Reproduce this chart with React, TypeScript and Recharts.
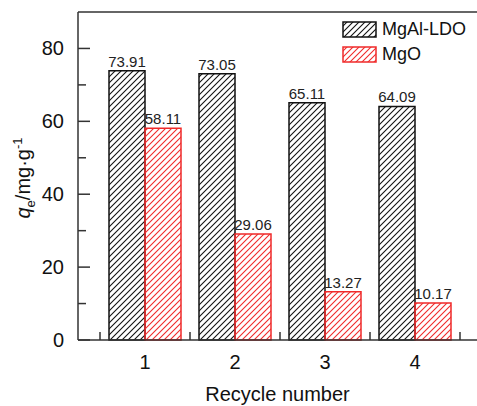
import { BarChart, Bar, XAxis, YAxis, Legend, LabelList, ReferenceLine } from "recharts";

const cycles = ["1", "2", "3", "4"];
const ldoValues = [73.91, 73.05, 65.11, 64.09];
const mgoValues = [58.11, 29.06, 13.27, 10.17];
const yTicks = [0, 10, 20, 30, 40, 50, 60, 70, 80];

const data = cycles.map((c, i) => ({ cycle: c, ldo: ldoValues[i], mgo: mgoValues[i] }));

const FONT = "'Liberation Sans', Arial, sans-serif";
const AXIS = "#333";
const RED = "#f02a2a";
const HALF_BAND = 45;

const Hatch = ({ id, color }: { id: string; color: string }) => (
  <pattern id={id} patternUnits="userSpaceOnUse" width={6} height={6}>
    <path d="M-1,1 l2,-2 M0,6 l6,-6 M5,7 l2,-2" stroke={color} strokeWidth={1.1} />
  </pattern>
);

const XTick = (props: any) => {
  const { x, y, payload, index } = props;
  return (
    <g>
      <line x1={x - HALF_BAND} x2={x - HALF_BAND} y1={y} y2={y - 8} stroke={AXIS} strokeWidth={1.5} />
      {index === cycles.length - 1 && (
        <line x1={x + HALF_BAND} x2={x + HALF_BAND} y1={y} y2={y - 8} stroke={AXIS} strokeWidth={1.5} />
      )}
      <text x={x} y={y + 29} textAnchor="middle" fontSize={20} fontFamily={FONT} fill="#111">
        {payload.value}
      </text>
    </g>
  );
};

const YTick = (props: any) => {
  const { x, y, payload } = props;
  const major = payload.value % 20 === 0;
  return (
    <g>
      <line x1={x} x2={x + (major ? 12 : 8)} y1={y} y2={y} stroke={AXIS} strokeWidth={1.5} />
      {major && (
        <text x={x - 14} y={y + 7} textAnchor="end" fontSize={20} fontFamily={FONT} fill="#111">
          {payload.value}
        </text>
      )}
    </g>
  );
};

const YLabel = (props: any) => {
  const vb = props.viewBox || { x: 0, y: 12, height: 328 };
  const cx = 30;
  const cy = vb.y + vb.height / 2 + 2;
  return (
    <text
      x={cx}
      y={cy}
      transform={`rotate(-90, ${cx}, ${cy})`}
      textAnchor="middle"
      fontSize={20}
      fontFamily={FONT}
      fill="#111"
    >
      <tspan fontStyle="italic">q</tspan>
      <tspan fontSize={13} dy={5}>e</tspan>
      <tspan dy={-5}>/mg·g</tspan>
      <tspan fontSize={13} dy={-8}>-1</tspan>
    </text>
  );
};

const LegendContent = () => {
  const items = [
    { label: "MgAl-LDO", color: "#111", id: "lgBlack" },
    { label: "MgO", color: RED, id: "lgRed" },
  ];
  return (
    <div style={{ fontFamily: FONT, fontSize: 18, color: "#111" }}>
      {items.map((it) => (
        <div key={it.id} style={{ display: "flex", alignItems: "center", height: 25 }}>
          <svg width={36} height={18} style={{ marginRight: 4 }}>
            <defs>
              <Hatch id={it.id} color={it.color} />
            </defs>
            <rect x={1} y={1} width={33} height={15} fill={`url(#${it.id})`} stroke={it.color} strokeWidth={1.5} />
          </svg>
          <span>{it.label}</span>
        </div>
      ))}
    </div>
  );
};

export default function App() {
  return (
    <div style={{ position: "absolute", left: 0, top: 0, background: "#fff" }}>
      <BarChart
        width={477}
        height={406}
        data={data}
        margin={{ top: 12, right: 0, bottom: 0, left: 0 }}
        barCategoryGap={9}
        barGap={0}
      >
        <defs>
          <Hatch id="hatchBlack" color="#111" />
          <Hatch id="hatchRed" color={RED} />
        </defs>
        <XAxis
          dataKey="cycle"
          height={66}
          padding={{ left: 22, right: 17 }}
          axisLine={{ stroke: AXIS, strokeWidth: 1.5 }}
          tickLine={false}
          tickSize={0}
          tickMargin={0}
          tick={<XTick />}
          label={{ value: "Recycle number", position: "insideBottom", offset: 5, fontSize: 20, fontFamily: FONT, fill: "#111" }}
        />
        <YAxis
          width={78}
          domain={[0, 90]}
          ticks={yTicks}
          interval={0}
          axisLine={{ stroke: AXIS, strokeWidth: 1.5 }}
          tickLine={false}
          tickSize={0}
          tickMargin={0}
          tick={<YTick />}
          label={<YLabel />}
        />
        <ReferenceLine y={90} stroke={AXIS} strokeWidth={1.5} />
        <Legend
          layout="vertical"
          align="center"
          verticalAlign="middle"
          wrapperStyle={{ top: 17, left: 342 }}
          content={<LegendContent />}
        />
        <Bar dataKey="ldo" name="MgAl-LDO" fill="url(#hatchBlack)" stroke="#111" strokeWidth={1.5} isAnimationActive={false}>
          <LabelList dataKey="ldo" position="top" offset={4} fontSize={15} fontFamily={FONT} fill="#222" />
        </Bar>
        <Bar dataKey="mgo" name="MgO" fill="url(#hatchRed)" stroke={RED} strokeWidth={1.5} isAnimationActive={false}>
          <LabelList dataKey="mgo" position="top" offset={4} fontSize={15} fontFamily={FONT} fill="#222" />
        </Bar>
      </BarChart>
    </div>
  );
}
